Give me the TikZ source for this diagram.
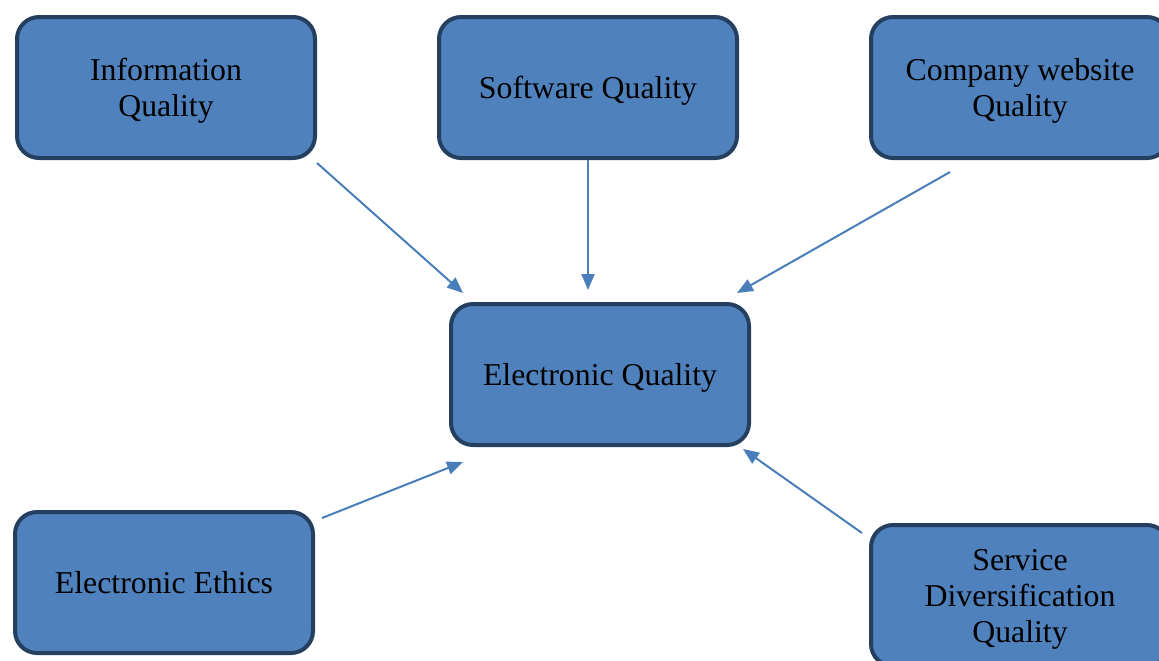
\documentclass[tikz,border=0pt]{standalone}
\usepackage{fontspec}
\setmainfont{Liberation Serif}
\usetikzlibrary{arrows.meta,positioning}
\definecolor{boxfill}{HTML}{4F81BD}
\definecolor{boxline}{HTML}{243F60}
\definecolor{arrowblue}{HTML}{4A7EBB}
\tikzset{
  qbox/.style={rectangle, rounded corners=11pt, draw=boxline, line width=2pt,
    fill=boxfill, minimum width=149pt, minimum height=70.5pt, inner sep=2pt,
    text depth=-1pt, align=center, font=\fontsize{15.9}{18}\selectfont},
  arrow/.style={-{Triangle[length=8pt,width=6.5pt]}, draw=arrowblue, line width=1pt}
}
\begin{document}
\begin{tikzpicture}[x=0.5pt, y=-0.5pt]
\useasboundingbox (0,0) rectangle (1159,660);
\clip (0,0) rectangle (1159,660);

% ---- Top row ----
\node[qbox] (info) at (166,87.5) {Information\\Quality};
\node[qbox, right=60pt of info] (soft) {Software Quality};
\node[qbox, right=65pt of soft] (web) {Company website\\Quality};

% ---- Centre ----
\node[qbox] (eq) at (600,374.5) {Electronic Quality};

% ---- Bottom row ----
\node[qbox] (ethics) at (164,582.5) {Electronic Ethics};
\node[qbox, below=181.5pt of web] (serv) {Service\\Diversification\\Quality};

% ---- Arrows into the centre ----
\draw[arrow] ([shift={(0,3)}]info.south east) -- ([shift={(14,-9)}]eq.north west);
\draw[arrow] (soft.south) -- ([shift={(-12,-12)}]eq.north);
\draw[arrow] ([shift={(81,12)}]web.south west) -- ([shift={(-14,-9)}]eq.north east);
\draw[arrow] ([shift={(7,8)}]ethics.north east) -- ([shift={(14,15)}]eq.south west);
\draw[arrow] ([shift={(-7,10)}]serv.north west) -- ([shift={(-8,2)}]eq.south east);

\end{tikzpicture}
\end{document}
